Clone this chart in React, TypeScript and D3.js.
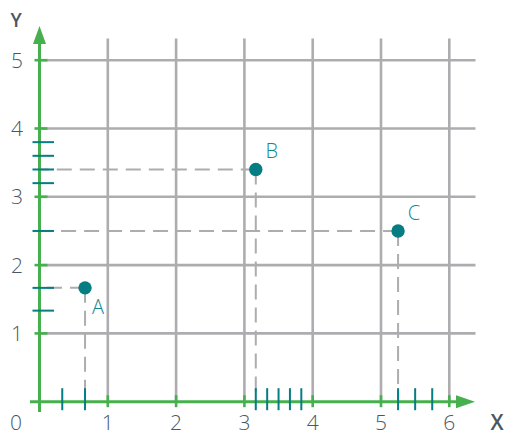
import React from "react";
import * as d3 from "d3";

const W = 510;
const H = 436;

const gridValues = [1, 2, 3, 4, 5, 6];
const yGridValues = [1, 2, 3, 4, 5];
const xTickLabels = ["0", "1", "2", "3", "4", "5", "6"];
const yTickLabels = ["1", "2", "3", "4", "5"];

const pointNames = ["A", "B", "C"];
const pointX = [2 / 3, 3 + 1 / 6, 5.25];
const pointY = [5 / 3, 3.4, 2.5];

const xSubTicks = [1 / 3, 2 / 3, 3 + 1 / 6, 3 + 2 / 6, 3 + 3 / 6, 3 + 4 / 6, 3 + 5 / 6, 5.25, 5.5, 5.75];
const ySubTicks = [4 / 3, 5 / 3, 2.5, 3.2, 3.4, 3.6, 3.8];

const GREEN = "#46b04e";
const GRID = "#adadb0";
const TEAL = "#057d82";
const LABEL_TEAL = "#13898d";
const TEXT = "#4b5763";
const FONT = "'Open Sans', 'Noto Sans', sans-serif";

export default function App() {
  const x = d3.scaleLinear().domain([0, 6]).range([39.5, 449.3]);
  const y = d3.scaleLinear().domain([0, 5]).range([401.7, 60.2]);
  const x0 = x(0);
  const y0 = y(0);

  return (
    <svg width={W} height={H} style={{ position: "absolute", left: 0, top: 0, background: "#fff" }}>
      {/* grid */}
      {gridValues.map((v) => (
        <line key={"gx" + v} x1={x(v)} x2={x(v)} y1={38.5} y2={y0} stroke={GRID} strokeWidth={2.6} />
      ))}
      {yGridValues.map((v) => (
        <line key={"gy" + v} x1={x0} x2={475.5} y1={y(v)} y2={y(v)} stroke={GRID} strokeWidth={2.6} />
      ))}

      {/* dashed guides */}
      {pointNames.map((n, i) => (
        <g key={"d" + n} stroke={GRID} strokeWidth={2} strokeDasharray="15,8" fill="none">
          <line x1={x(pointX[i])} x2={x0} y1={y(pointY[i])} y2={y(pointY[i])} />
          <line x1={x(pointX[i])} x2={x(pointX[i])} y1={y(pointY[i])} y2={y0} />
        </g>
      ))}

      {/* axes */}
      <line x1={30} x2={460} y1={y0} y2={y0} stroke={GREEN} strokeWidth={3} />
      <line x1={x0} x2={x0} y1={412} y2={40} stroke={GREEN} strokeWidth={3} />
      <path d={`M${x0 - 6.5},${44} L${x0},${26} L${x0 + 6.5},${44} Z`} fill={GREEN} />
      <path d={`M${456},${y0 - 6.5} L${475},${y0} L${456},${y0 + 6.5} Z`} fill={GREEN} />

      {/* integer ticks */}
      {gridValues.map((v) => (
        <line key={"tx" + v} x1={x(v)} x2={x(v)} y1={y0 - 6.5} y2={y0 + 5.5} stroke={GREEN} strokeWidth={2.6} />
      ))}
      {yGridValues.map((v) => (
        <line key={"ty" + v} x1={x0 - 5} x2={x0 + 8} y1={y(v)} y2={y(v)} stroke={GREEN} strokeWidth={2.6} />
      ))}

      {/* sub ticks */}
      {xSubTicks.map((v, i) => (
        <line key={"sx" + i} x1={x(v)} x2={x(v)} y1={y0 - 13.5} y2={y0 + 8.5} stroke={TEAL} strokeWidth={2} />
      ))}
      {ySubTicks.map((v, i) => (
        <line key={"sy" + i} x1={x0 - 7} x2={x0 + 14.5} y1={y(v)} y2={y(v)} stroke={TEAL} strokeWidth={2} />
      ))}

      {/* tick labels */}
      {xTickLabels.map((t, i) => (
        <text key={"lx" + t} x={i === 0 ? 16 : x(i)} y={430} textAnchor="middle" fontFamily={FONT} fontSize={21} fontWeight={300} fill={TEXT}>
          {t}
        </text>
      ))}
      {yTickLabels.map((t, i) => (
        <text key={"ly" + t} x={17} y={y(i + 1) + 7.5} textAnchor="middle" fontFamily={FONT} fontSize={21} fontWeight={300} fill={TEXT}>
          {t}
        </text>
      ))}
      <text x={497} y={430} textAnchor="middle" fontFamily={FONT} fontSize={21} fontWeight={600} fill={TEXT}>
        X
      </text>
      <text x={16} y={26.7} textAnchor="middle" fontFamily={FONT} fontSize={19} fontWeight={600} fill={TEXT}>
        Y
      </text>

      {/* points */}
      {pointNames.map((n, i) => (
        <g key={"p" + n}>
          <circle cx={x(pointX[i])} cy={y(pointY[i])} r={6.7} fill={TEAL} />
          <text
            x={x(pointX[i]) + (i === 0 ? 13 : 16)}
            y={y(pointY[i]) + (i === 0 ? 26 : -11)}
            textAnchor="middle"
            fontFamily={FONT}
            fontSize={20}
            fontWeight={300}
            fill={LABEL_TEAL}
          >
            {n}
          </text>
        </g>
      ))}
    </svg>
  );
}
